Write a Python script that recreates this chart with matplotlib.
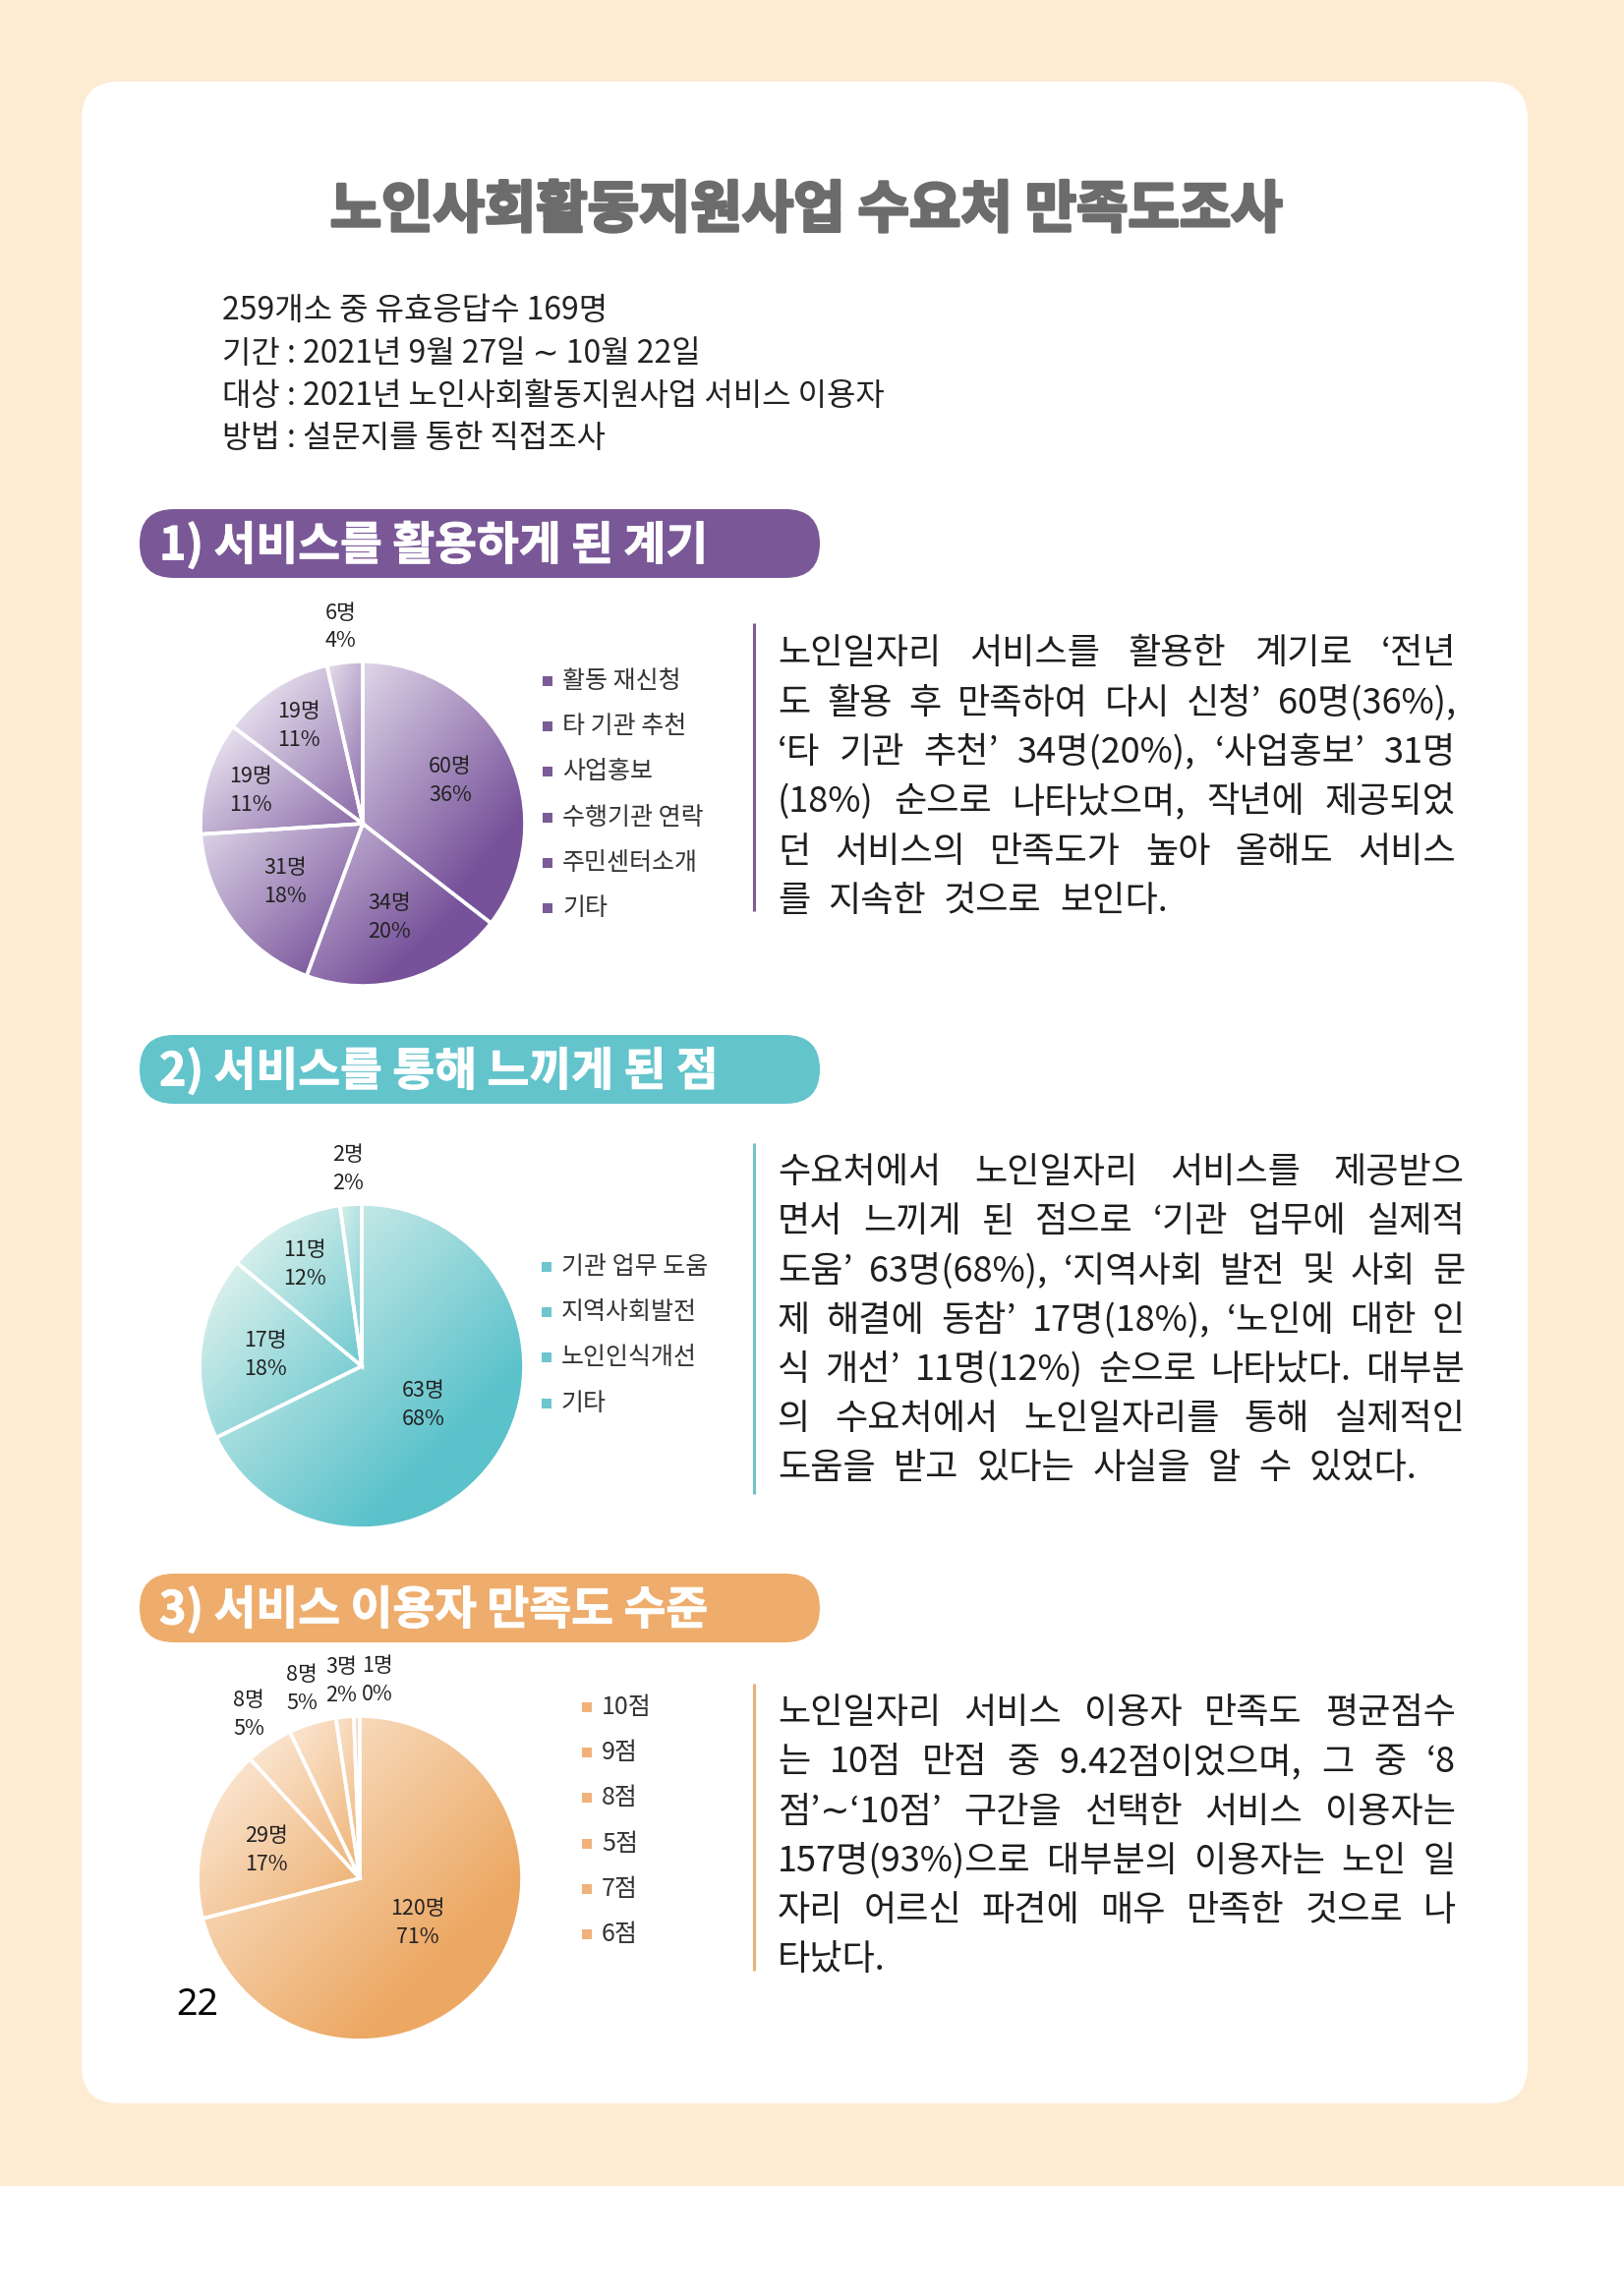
import numpy as np
import matplotlib.pyplot as plt
import matplotlib.patheffects as pe
from matplotlib.patches import FancyBboxPatch, Rectangle
from matplotlib.colors import LinearSegmentedColormap

plt.rcParams['font.family'] = ['Noto Sans CJK KR', 'DejaVu Sans']

W, H = 1652, 2336

# ---- data ----
title = '노인사회활동지원사업 수요처 만족도조사'
info_lines = ['259개소 중 유효응답수 169명',
              '기간 : 2021년 9월 27일 ∼ 10월 22일',
              '대상 : 2021년 노인사회활동지원사업 서비스 이용자',
              '방법 : 설문지를 통한 직접조사']

sec1_title = '1) 서비스를 활용하게 된 계기'
sec1_labels = ['활동 재신청', '타 기관 추천', '사업홍보', '수행기관 연락', '주민센터소개', '기타']
sec1_counts = [60, 34, 31, 19, 19, 6]
sec1_pcts = [36, 20, 18, 11, 11, 4]
sec1_text = ['노인일자리 서비스를 활용한 계기로 ‘전년',
             '도 활용 후 만족하여 다시 신청’ 60명(36%),',
             '‘타 기관 추천’ 34명(20%), ‘사업홍보’ 31명',
             '(18%) 순으로 나타났으며, 작년에 제공되었',
             '던 서비스의 만족도가 높아 올해도 서비스',
             '를 지속한 것으로 보인다.']

sec2_title = '2) 서비스를 통해 느끼게 된 점'
sec2_labels = ['기관 업무 도움', '지역사회발전', '노인인식개선', '기타']
sec2_counts = [63, 17, 11, 2]
sec2_pcts = [68, 18, 12, 2]
sec2_text = ['수요처에서 노인일자리 서비스를 제공받으',
             '면서 느끼게 된 점으로 ‘기관 업무에 실제적',
             '도움’ 63명(68%), ‘지역사회 발전 및 사회 문',
             '제 해결에 동참’ 17명(18%), ‘노인에 대한 인',
             '식 개선’ 11명(12%) 순으로 나타났다. 대부분',
             '의 수요처에서 노인일자리를 통해 실제적인',
             '도움을 받고 있다는 사실을 알 수 있었다.']

sec3_title = '3) 서비스 이용자 만족도 수준'
sec3_labels = ['10점', '9점', '8점', '5점', '7점', '6점']
sec3_counts = [120, 29, 8, 8, 3, 1]
sec3_pcts = [71, 17, 5, 5, 2, 0]
sec3_text = ['노인일자리 서비스 이용자 만족도 평균점수',
             '는 10점 만점 중 9.42점이었으며, 그 중 ‘8',
             '점’∼‘10점’ 구간을 선택한 서비스 이용자는',
             '157명(93%)으로 대부분의 이용자는 노인 일',
             '자리 어르신 파견에 매우 만족한 것으로 나',
             '타났다.']

page_no = '22'

# ---- page ----
fig = plt.figure(figsize=(W / 100, H / 100), dpi=100)
fig.patch.set_facecolor('white')
ax = fig.add_axes([0, 0, 1, 1])
ax.set_xlim(0, W)
ax.set_ylim(H, 0)
ax.axis('off')

ax.add_patch(Rectangle((0, 0), W, 2224, facecolor='#fdebd2', edgecolor='none'))
ax.add_patch(FancyBboxPatch((83, 83), 1471, 2057, boxstyle='round,pad=0,rounding_size=38',
                            facecolor='white', edgecolor='none'))

ax.text(820, 214, title, fontsize=41, fontweight='heavy', color='#6c6c6c',
        ha='center', va='center',
        path_effects=[pe.withStroke(linewidth=2.2, foreground='#6c6c6c')])

for i, s in enumerate(info_lines):
    ax.text(226, 316 + i * 43.5, s, fontsize=23, color='#222222', ha='left', va='center')

renderer = fig.canvas.get_renderer()


def text_width(s, fs):
    t = ax.text(0, 0, s, fontsize=fs)
    w = t.get_window_extent(renderer).width
    t.remove()
    return w


def paragraph(lines, x0, x1, y0, dy, fs, bar_color, bar_top, bar_bot):
    ax.plot([767, 767], [bar_top, bar_bot], color=bar_color, lw=2.2, solid_capstyle='butt')
    for i, line in enumerate(lines):
        words = line.split(' ')
        size = fs
        widths = [text_width(wd, size) for wd in words]
        while sum(widths) + 6 * (len(words) - 1) > x1 - x0:
            size -= 0.5
            widths = [text_width(wd, size) for wd in words]
        em = size * 100 / 72
        y = y0 + i * dy + 0.37 * em
        if i == len(lines) - 1:
            gap = 0.5 * em
        else:
            gap = (x1 - x0 - sum(widths)) / (len(words) - 1)
        x = x0
        for wd, wdt in zip(words, widths):
            ax.text(x, y, wd, fontsize=size, color='#1e1e1e', va='baseline', ha='left')
            x += wdt + gap


def section_head(y, text, color):
    ax.add_patch(FancyBboxPatch((142, y), 692, 70, boxstyle='round,pad=0,rounding_size=35',
                                facecolor=color, edgecolor='none'))
    ax.text(162, y + 37, text, fontsize=33.5, fontweight='heavy', color='white',
            ha='left', va='center',
            path_effects=[pe.withStroke(linewidth=0.7, foreground='white')])


def legend(x, y0, labels, color):
    for i, lab in enumerate(labels):
        y = y0 + i * 46.2
        ax.add_patch(Rectangle((x - 5, y - 5), 10, 10, facecolor=color, edgecolor='none'))
        ax.text(x + 15, y, lab, fontsize=18, color='#333333', ha='left', va='center')


def pie(cx, cy, r, counts, pcts, light, dark):
    pax = fig.add_axes([(cx - 1.6 * r) / W, (H - cy - 1.6 * r) / H, 3.2 * r / W, 3.2 * r / H])
    wedges, _ = pax.pie(counts, radius=1, startangle=90, counterclock=False,
                        wedgeprops=dict(edgecolor='white', linewidth=2.6))
    cmap = LinearSegmentedColormap.from_list('g', [light, dark])
    total = sum(counts)
    outer = []
    for w, n, p in zip(wedges, counts, pcts):
        a = np.radians(np.linspace(w.theta1, w.theta2, 60))
        xs = np.r_[0, np.cos(a)]
        ys = np.r_[0, np.sin(a)]
        x0, x1, y0, y1 = xs.min(), xs.max(), ys.min(), ys.max()
        gx, gy = np.meshgrid(np.linspace(x0, x1, 200), np.linspace(y1, y0, 200))
        t_glob = ((gx + 1) / 2 + (1 - gy) / 2) / 2
        t_loc = ((gx - x0) / (x1 - x0 + 1e-9) + (y1 - gy) / (y1 - y0 + 1e-9)) / 2
        grad = np.clip((0.7 * t_glob + 0.3 * t_loc - 0.06) * 1.45, 0, 1)
        im = pax.imshow(grad, cmap=cmap, vmin=0, vmax=1, origin='upper',
                        extent=(x0, x1, y0, y1), interpolation='bilinear', zorder=1)
        im.set_clip_path(w)
        w.set_facecolor('none')
        w.set_zorder(2)
        frac = n / total
        mid = np.radians((w.theta1 + w.theta2) / 2)
        lab = f'{n}명\n{p}%'
        if frac < 0.05:
            outer.append([1.22 * np.cos(mid), 1.22 * np.sin(mid), lab])
            continue
        d = 0.72 if frac < 0.15 else (0.6 if frac < 0.5 else 0.45)
        pax.text(d * np.cos(mid), d * np.sin(mid), lab, fontsize=15.5, color='#222222',
                 ha='center', va='center', linespacing=1.4, zorder=3)
    outer.sort(key=lambda o: o[0])
    for k in range(1, len(outer)):
        if outer[k][0] - outer[k - 1][0] < 0.22:
            outer[k][0] = outer[k - 1][0] + 0.22
    for ox, oy, lab in outer:
        pax.text(ox, oy, lab, fontsize=15.5, color='#222222', ha='center', va='center',
                 linespacing=1.4, zorder=3)
    pax.set_xlim(-1.6, 1.6)
    pax.set_ylim(-1.6, 1.6)
    pax.set_aspect('equal')
    pax.axis('off')
    pax.patch.set_visible(False)


# section 1
section_head(518, sec1_title, '#7a5897')
pie(369, 838, 165, sec1_counts, sec1_pcts, '#f4f1f8', '#77529a')
legend(557, 693, sec1_labels, '#7b5a98')
paragraph(sec1_text, 791, 1481, 662, 50.3, 26, '#7d5c97', 634, 927)

# section 2
section_head(1053, sec2_title, '#63c4cc')
pie(368, 1390, 165, sec2_counts, sec2_pcts, '#e9f6f0', '#5bc2cb')
legend(556, 1289, sec2_labels, '#6dc6cf')
paragraph(sec2_text, 791, 1490, 1190, 50.1, 26, '#72c2c9', 1163, 1520)

# section 3
section_head(1601, sec3_title, '#eead6c')
pie(366, 1911, 165, sec3_counts, sec3_pcts, '#fcecdc', '#eca863')
legend(597, 1737, sec3_labels, '#f0b27a')
paragraph(sec3_text, 791, 1481, 1740, 50.1, 26, '#e8b276', 1713, 2005)

ax.text(201, 2040, page_no, fontsize=27, fontweight='bold', color='black',
        family=['Noto Sans', 'DejaVu Sans'], ha='center', va='center')

fig.savefig('out.png', dpi=100)
